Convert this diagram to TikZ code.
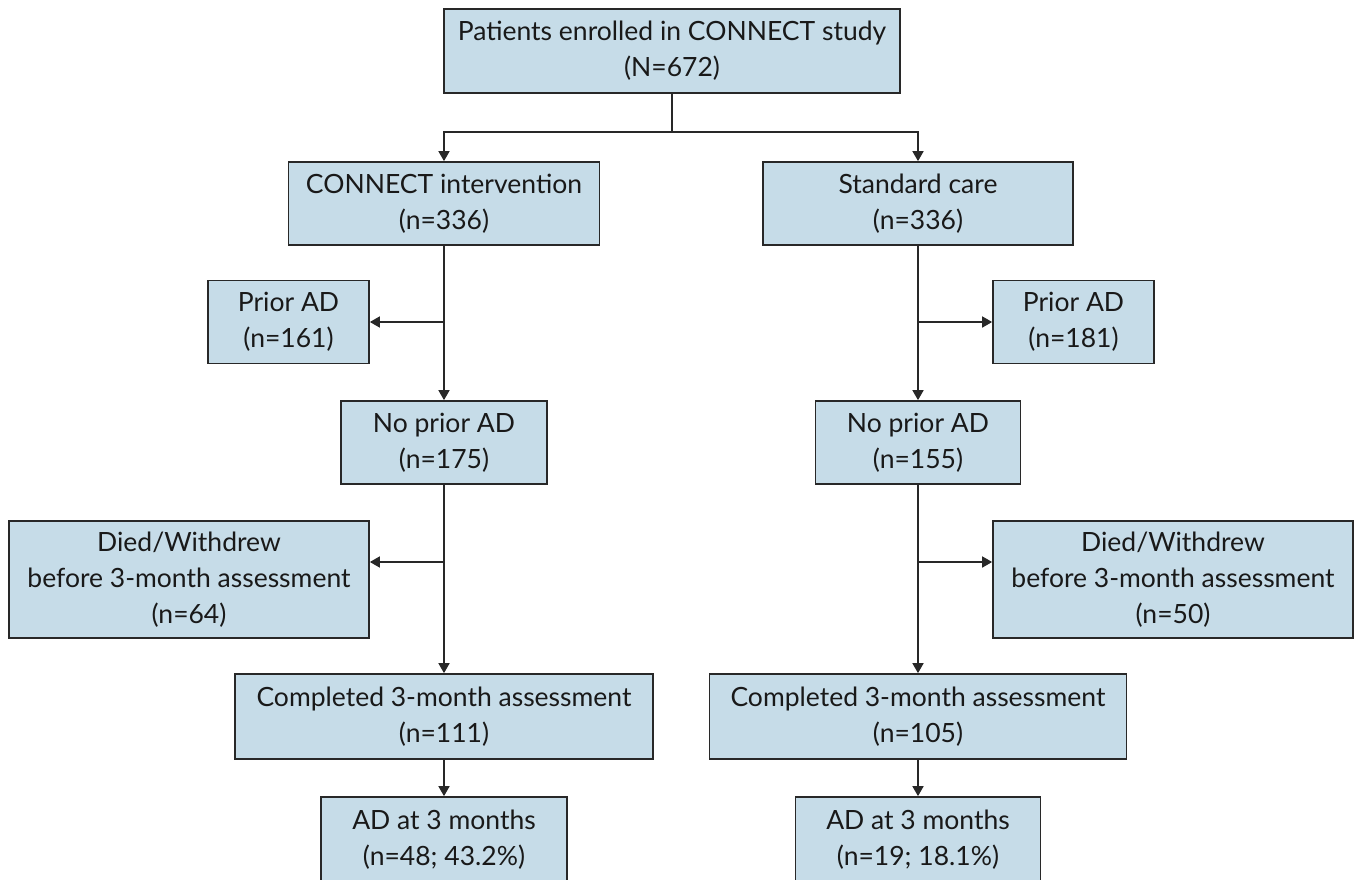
\documentclass[tikz,border=0pt]{standalone}
\usepackage{fontspec}
\setmainfont{Lato}
\usetikzlibrary{arrows.meta}
\definecolor{boxfill}{RGB}{198,220,232}
\definecolor{boxline}{RGB}{40,40,40}
\tikzset{
  box/.style={draw=boxline, fill=boxfill, line width=1.7pt, align=center, inner sep=0pt,
    font=\fontsize{26.5}{36}\selectfont, text=black!90},
  conn/.style={draw=boxline, line width=1.7pt},
  arr/.style={conn, -{Triangle[length=10pt,width=11pt]}}
}
\begin{document}
\begin{tikzpicture}[x=1pt,y=-1pt]
\useasboundingbox (0,0) rectangle (1358,880);
\node[box, minimum width=456, minimum height=84] (top) at (672,51) {Patients enrolled in CONNECT study\\(N=672)};
\node[box, minimum width=311, minimum height=83] (L1) at (444,203.5) {CONNECT intervention\\(n=336)};
\node[box, minimum width=310, minimum height=83] (R1) at (918,203.5) {Standard care\\(n=336)};
\node[box, minimum width=161, minimum height=83] (LP) at (288.5,322) {Prior AD\\(n=161)};
\node[box, minimum width=161, minimum height=83] (RP) at (1073.5,322) {Prior AD\\(n=181)};
\node[box, minimum width=206, minimum height=83] (LN) at (444,442.5) {No prior AD\\(n=175)};
\node[box, minimum width=205, minimum height=83] (RN) at (918,442.5) {No prior AD\\(n=155)};
\node[box, minimum width=360, minimum height=117] (LD) at (189,579.5) {Died/Withdrew\\before 3-month assessment\\(n=64)};
\node[box, minimum width=360, minimum height=117] (RD) at (1173,579.5) {Died/Withdrew\\before 3-month assessment\\(n=50)};
\node[box, minimum width=418, minimum height=85] (LC) at (444,716.5) {Completed 3-month assessment\\(n=111)};
\node[box, minimum width=417, minimum height=85] (RC) at (918,716.5) {Completed 3-month assessment\\(n=105)};
\node[box, minimum width=246, minimum height=86] (LA) at (444,840) {AD at 3 months\\(n=48; 43.2\%)};
\node[box, minimum width=245, minimum height=86] (RA) at (918,840) {AD at 3 months\\(n=19; 18.1\%)};
% connectors
\coordinate (br) at (672,132);
\draw[conn] (top.south) -- (br);
\draw[arr] (br) -| (L1.north);
\draw[arr] (br) -| (R1.north);
\coordinate (jl1) at (L1.south |- LP.east);
\coordinate (jr1) at (R1.south |- RP.west);
\draw[arr] (L1.south) -- (LN.north);
\draw[arr] (R1.south) -- (RN.north);
\draw[arr] (jl1) -- (LP.east);
\draw[arr] (jr1) -- (RP.west);
\coordinate (jl2) at (444,562);
\coordinate (jr2) at (918,562);
\draw[arr] (LN.south) -- (LC.north);
\draw[arr] (RN.south) -- (RC.north);
\draw[arr] (jl2) -- (jl2 -| LD.east);
\draw[arr] (jr2) -- (jr2 -| RD.west);
\draw[arr] (LC.south) -- (LA.north);
\draw[arr] (RC.south) -- (RA.north);
\end{tikzpicture}
\end{document}
